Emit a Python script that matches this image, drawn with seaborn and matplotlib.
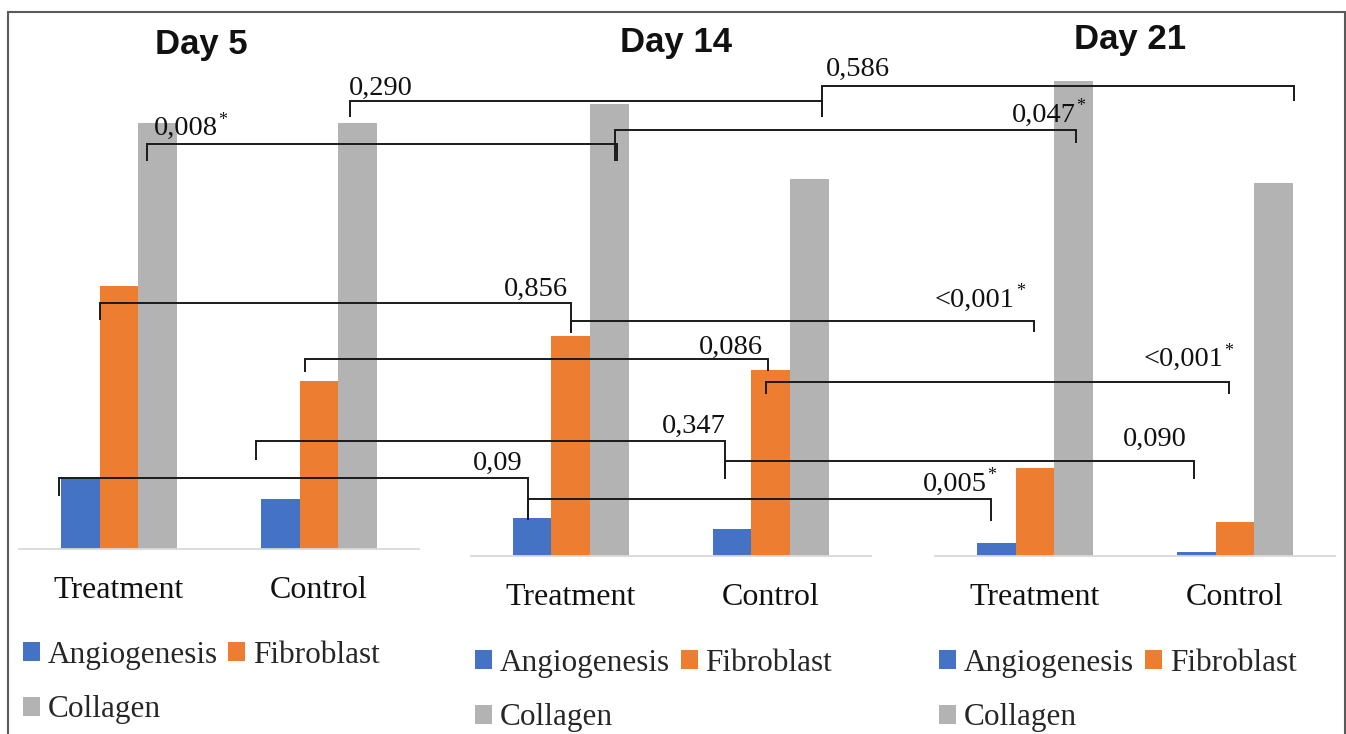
import matplotlib
matplotlib.use("Agg")
import matplotlib.pyplot as plt
import seaborn as sns
import pandas as pd
from matplotlib.lines import Line2D
from matplotlib.patches import Patch, Rectangle
from matplotlib.text import Annotation

# ---------------- data ----------------
days = ["Day 5", "Day 14", "Day 21"]
groups = ["Treatment", "Control"]
measures = ["Angiogenesis", "Fibroblast", "Collagen"]

angiogenesis_treatment = [0.71, 0.38, 0.13]
angiogenesis_control = [0.50, 0.27, 0.04]
fibroblast_treatment = [2.63, 2.20, 0.88]
fibroblast_control = [1.68, 1.86, 0.34]
collagen_treatment = [4.26, 4.52, 4.75]
collagen_control = [4.26, 3.77, 3.73]

# comparisons between consecutive days
comp_measure = ["Collagen", "Collagen", "Collagen", "Collagen",
                "Fibroblast", "Fibroblast", "Fibroblast", "Fibroblast",
                "Angiogenesis", "Angiogenesis", "Angiogenesis", "Angiogenesis"]
comp_group = ["Control", "Control", "Treatment", "Treatment",
              "Treatment", "Treatment", "Control", "Control",
              "Control", "Control", "Treatment", "Treatment"]
comp_from = [0, 1, 0, 1, 0, 1, 0, 1, 0, 1, 0, 1]
comp_to = [1, 2, 1, 2, 1, 2, 1, 2, 1, 2, 1, 2]
p_values = ["0,290", "0,586", "0,008", "0,047", "0,856", "<0,001",
            "0,086", "<0,001", "0,347", "0,090", "0,09", "0,005"]
p_significant = [False, False, True, True, False, True,
                 False, True, False, False, False, True]

# ---------------- style / layout ----------------
W, H = 1346, 734
colors = {"Angiogenesis": "#4472C4", "Fibroblast": "#ED7D31", "Collagen": "#B3B3B3"}
panel_left_px = [19, 470.7, 935]
panel_base_px = [548.7, 556.2, 556.2]
panel_w_px = 400
panel_h_px = 500
ymax = 5.0
title_pos = [(0.455, 0.9894), (0.512, 1.0088), (0.4875, 1.0144)]
legend_anchor_px = [(22.7, 682.5), (475, 690.5), (939.3, 690.5)]
# bracket layout: level (data units of start panel), dx start px, dx end px,
# tick start px, tick end px, label anchor side, label dx px, label gap px
bracket_layout = [
    (4.48, -8, 12.7, 16, 16, "L", -1, 6),
    (4.705, 12.7, 20, 31, 15.5, "L", 4, 10),
    (4.045, -11, 7.7, 16.4, 16.4, "L", 7, 9),
    (4.26, 6, 2.7, 30.4, 12.6, "R", -0.7, 8.5),
    (2.453, -18.7, 0.7, 16.6, 30, "R", -3.4, 7),
    (2.355, 0.7, -1, 12.6, 11.7, "R", -19, 14),
    (1.897, -14, -2.7, 13, 11.8, "R", -5, 5.5),
    (1.742, -5, -5.7, 12, 12, "R", -6, 16),
    (1.077, -24, -7, 19, 37.5, "R", 1, 8),
    (0.955, -7, -2, 17.8, 17.8, "R", -8, 14.7),
    (0.712, -21, -4, 18.5, 42, "R", -5.6, 8),
    (0.576, -4, -5, 21, 22, "R", -4.7, 8),
]

sns.set_style("white")
plt.rcParams["font.family"] = ["Liberation Serif", "DejaVu Serif"]

rows = []
for i, d in enumerate(days):
    for g, a, f, c in [("Treatment", angiogenesis_treatment[i], fibroblast_treatment[i], collagen_treatment[i]),
                       ("Control", angiogenesis_control[i], fibroblast_control[i], collagen_control[i])]:
        rows.append((d, g, "Angiogenesis", a))
        rows.append((d, g, "Fibroblast", f))
        rows.append((d, g, "Collagen", c))
df = pd.DataFrame(rows, columns=["day", "group", "measure", "value"])

fig = plt.figure(figsize=(W / 100, H / 100), dpi=100)
fig.patch.set_facecolor("white")

axes = []
bar_w = 0.58
for i, d in enumerate(days):
    rect = [panel_left_px[i] / W, (H - panel_base_px[i]) / H, panel_w_px / W, panel_h_px / H]
    ax = fig.add_axes(rect)
    ax.patch.set_alpha(0)
    sub = df[df["day"] == d]
    sns.barplot(data=sub, x="group", y="value", hue="measure", order=groups,
                hue_order=measures, palette=colors, width=bar_w, saturation=1,
                errorbar=None, linewidth=0, legend=False, ax=ax)
    ax.set_xlim(-0.5, 1.5)
    ax.set_ylim(0, ymax)
    ax.set_xlabel("")
    ax.set_ylabel("")
    ax.set_yticks([])
    for s in ["top", "left", "right"]:
        ax.spines[s].set_visible(False)
    ax.spines["bottom"].set_color("#D9D9D9")
    ax.spines["bottom"].set_linewidth(1.3)
    ax.tick_params(axis="x", length=0, pad=19.5, labelsize=23, colors="#111111")
    ax.text(title_pos[i][0], title_pos[i][1], d, transform=ax.transAxes,
            ha="center", va="baseline", fontsize=25, fontweight="bold",
            family="Liberation Sans", color="#111111")
    handles = [Patch(facecolor=colors[m], edgecolor="none") for m in ["Angiogenesis", "Collagen", "Fibroblast"]]
    lx, ly = legend_anchor_px[i]
    ax.legend(handles, ["Angiogenesis", "Collagen", "Fibroblast"], ncol=2,
              loc="center left", bbox_to_anchor=(lx / W, 1 - ly / H),
              bbox_transform=fig.transFigure, frameon=False, fontsize=22.5,
              handlelength=0.54, handleheight=0.54, handletextpad=0.25,
              columnspacing=0.35, labelspacing=0.82, borderpad=0, borderaxespad=0)
    axes.append(ax)


def bar_center_disp(p, group, measure):
    ax = axes[p]
    gi = groups.index(group)
    mi = measures.index(measure)
    expected = gi + (mi - 1) * bar_w / 3
    best = min(ax.patches, key=lambda r: abs(r.get_x() + r.get_width() / 2 - expected))
    cx = best.get_x() + best.get_width() / 2
    return ax.transData.transform((cx, 0))[0]


line_kw = dict(color="#1a1a1a", lw=1.4, solid_capstyle="butt", solid_joinstyle="miter")
for k in range(len(p_values)):
    level, dxa, dxb, ta, tb, side, ldx, gap = bracket_layout[k]
    pa, pb = comp_from[k], comp_to[k]
    xa = bar_center_disp(pa, comp_group[k], comp_measure[k]) + dxa
    xb = bar_center_disp(pb, comp_group[k], comp_measure[k]) + dxb
    yl = axes[pa].transData.transform((0, level))[1]
    xs = [xa / W, xa / W, xb / W, xb / W]
    ys = [(yl - ta) / H, yl / H, yl / H, (yl - tb) / H]
    fig.add_artist(Line2D(xs, ys, transform=fig.transFigure, **line_kw))
    if side == "L":
        tx, ha = xa + ldx, "left"
    else:
        tx, ha = xb + ldx, "right"
    t = fig.text(tx / W, (yl + gap) / H, p_values[k], ha=ha, va="baseline",
                 fontsize=20.5, color="#111111")
    if p_significant[k]:
        ann = Annotation("*", xy=(1, 1), xycoords=t, xytext=(0.5, -3),
                         textcoords="offset points", ha="left", va="center",
                         fontsize=13, color="#111111")
        fig.add_artist(ann)

fig.add_artist(Rectangle((8 / W, -0.05), (1345 - 8) / W, 1 - 12 / H + 0.05,
                         transform=fig.transFigure, fill=False,
                         edgecolor="#5a5a5a", lw=1.5))

fig.savefig("out.png", dpi=100)
